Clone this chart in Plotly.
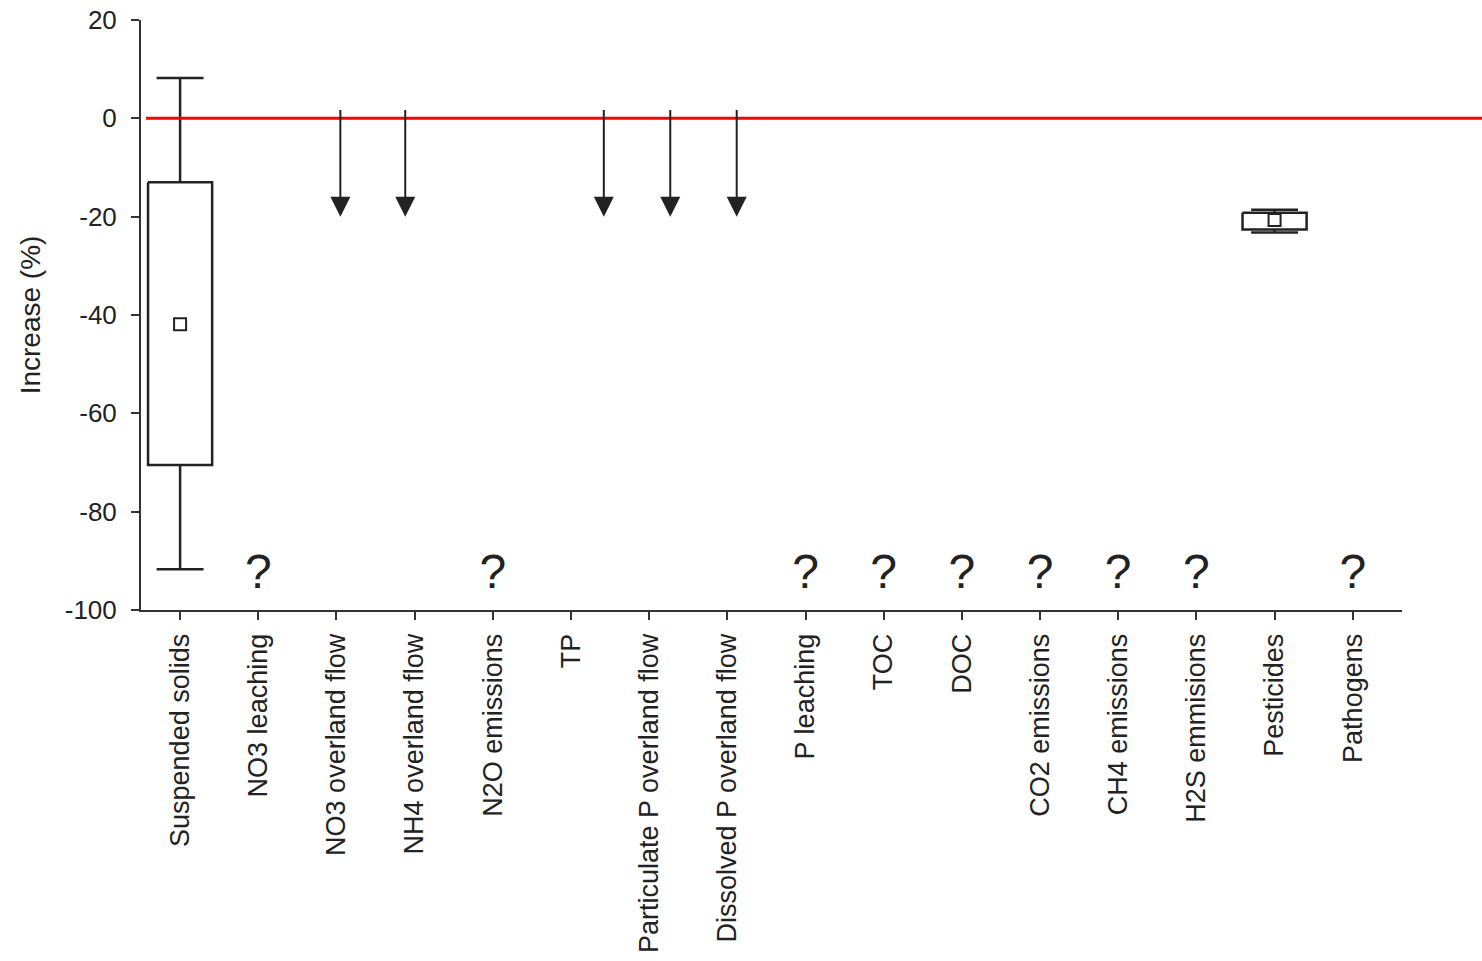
import plotly.graph_objects as go

# Categories along the x axis
categories = [
    "Suspended solids", "NO3 leaching", "NO3 overland flow", "NH4 overland flow",
    "N2O emissions", "TP", "Particulate P overland flow", "Dissolved P overland flow",
    "P leaching", "TOC", "DOC", "CO2 emissions", "CH4 emissions", "H2S emmisions",
    "Pesticides", "Pathogens",
]

# Box-plot statistics (increase, %)
box_cats = ["Suspended solids", "Pesticides"]
box_upper = [-13.0, -19.2]
box_lower = [-70.5, -22.6]
whisker_hi = [8.2, -18.6]
whisker_lo = [-91.7, -23.2]
box_mean = [-41.9, -20.7]

# Decrease of unknown magnitude (arrows)
arrow_cats = ["NO3 overland flow", "NH4 overland flow", "TP",
              "Particulate P overland flow", "Dissolved P overland flow"]
arrow_top = [2, 2, 2, 2, 2]
arrow_tip = [-20, -20, -20, -20, -20]

# Effect unknown
unknown_cats = ["NO3 leaching", "N2O emissions", "P leaching", "TOC", "DOC",
                "CO2 emissions", "CH4 emissions", "H2S emmisions", "Pathogens"]
unknown_level = -93

y_ticks = [20, 0, -20, -40, -60, -80, -100]

# ---- layout helpers ----
FONT = "Liberation Sans, Arial, Helvetica, sans-serif"
INK = "#222222"
pos = {c: i for i, c in enumerate(categories)}
arrow_shift = [0.05, -0.12, 0.42, 0.27, 0.12]
half_box = 0.41
half_cap = 0.30

fig = go.Figure()

# boxes and whiskers
for c, up, lo, hi, wl in zip(box_cats, box_upper, box_lower, whisker_hi, whisker_lo):
    xc = pos[c]
    xs = [xc - half_box, xc + half_box, xc + half_box, xc - half_box, xc - half_box, None,
          xc, xc, None, xc - half_cap, xc + half_cap, None,
          xc, xc, None, xc - half_cap, xc + half_cap]
    ys = [up, up, lo, lo, up, None,
          up, hi, None, hi, hi, None,
          lo, wl, None, wl, wl]
    fig.add_trace(go.Scatter(x=xs, y=ys, mode="lines",
                             line=dict(color=INK, width=2.5),
                             hoverinfo="skip", showlegend=False))

# means
fig.add_trace(go.Scatter(
    x=[pos[c] for c in box_cats], y=box_mean, mode="markers",
    marker=dict(symbol="square-open", size=12, color=INK, line=dict(width=2)),
    showlegend=False, hoverinfo="skip"))

# unknown effect markers
fig.add_trace(go.Scatter(
    x=[pos[c] for c in unknown_cats], y=[unknown_level] * len(unknown_cats),
    mode="text", text=["?"] * len(unknown_cats),
    textfont=dict(family=FONT, size=48, color=INK),
    showlegend=False, hoverinfo="skip"))

# arrows
for c, top, tip, sh in zip(arrow_cats, arrow_top, arrow_tip, arrow_shift):
    xa = pos[c] + sh
    fig.add_annotation(x=xa, y=tip, ax=xa, ay=top, xref="x", yref="y",
                       axref="x", ayref="y", text="", showarrow=True,
                       arrowhead=2, arrowsize=2, arrowwidth=2,
                       arrowcolor=INK, standoff=0, startstandoff=0)

# zero reference line
fig.add_shape(type="line", xref="paper", yref="y", x0=0.004, x1=1.07, y0=0, y1=0,
              line=dict(color="#ff0000", width=3))

fig.update_layout(
    width=1482, height=961,
    margin=dict(l=141, r=80, t=20, b=351),
    paper_bgcolor="white", plot_bgcolor="white",
    font=dict(family=FONT, color=INK),
    showlegend=False,
)

fig.update_xaxes(
    range=[-0.5, 15.63], tickmode="array",
    tickvals=list(range(len(categories))), ticktext=categories,
    tickangle=-90, tickfont=dict(size=27, color=INK),
    showline=True, linecolor="#333333", linewidth=2,
    ticks="outside", ticklen=8, tickwidth=2, tickcolor="#333333",
    showgrid=False, zeroline=False, ticklabelstandoff=3, automargin=False,
)

fig.update_yaxes(
    range=[-100, 20], tickmode="array", tickvals=y_ticks,
    ticktext=[str(v) for v in y_ticks],
    tickfont=dict(size=26, color=INK),
    showline=True, linecolor="#333333", linewidth=2,
    ticks="outside", ticklen=8, tickwidth=2, tickcolor="#333333",
    showgrid=False, zeroline=False, ticklabelstandoff=9, automargin=False,
    title=dict(text="Increase (%)", font=dict(size=28, color=INK), standoff=16),
)

fig.write_html("out.html")
